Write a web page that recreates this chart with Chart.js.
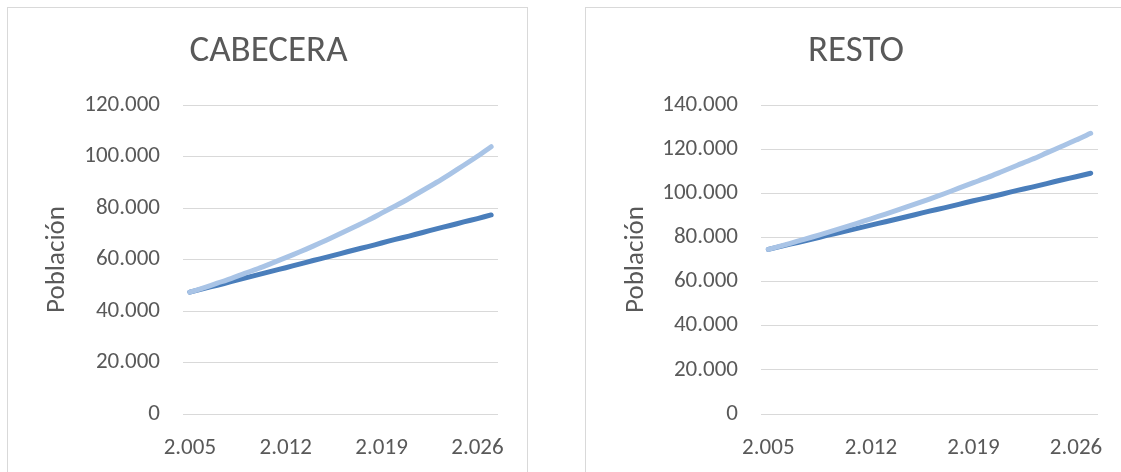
<!DOCTYPE html>
<html>
<head>
<meta charset="utf-8">
<script src="https://cdn.jsdelivr.net/npm/chart.js@4/dist/chart.umd.min.js"></script>
<style>
  body { margin: 0; background: #fff; overflow: hidden; }
  .box { position: absolute; top: 7px; border: 1px solid #d9d9d9; background: #fff; }
  #boxCab { left: 7px; }
  #boxRes { left: 585px; }
  canvas { display: block; }
</style>
</head>
<body>
<div class="box" id="boxCab"><canvas id="cabecera" width="519" height="470"></canvas></div>
<div class="box" id="boxRes"><canvas id="resto" width="540" height="470"></canvas></div>
<script>
const years = [2005, 2006, 2007, 2008, 2009, 2010, 2011, 2012, 2013, 2014, 2015, 2016,
  2017, 2018, 2019, 2020, 2021, 2022, 2023, 2024, 2025, 2026, 2027];

// Cabecera: proyección lineal y geométrica
const cabeceraLineal = [47300, 48700, 50000, 51400, 52800, 54100, 55500, 56800, 58200, 59600,
  60900, 62300, 63700, 65000, 66400, 67800, 69100, 70500, 71900, 73200, 74600, 75900, 77300];
const cabeceraGeom = [47300, 49000, 50800, 52600, 54600, 56500, 58600, 60700, 62900, 65200,
  67600, 70100, 72600, 75200, 78000, 80800, 83700, 86800, 89900, 93200, 96600, 100100, 103800];

// Resto
const restoLineal = [74600, 76200, 77700, 79300, 80900, 82400, 84000, 85600, 87100, 88700,
  90300, 91900, 93400, 95000, 96600, 98100, 99700, 101300, 102800, 104400, 106000, 107500, 109100];
const restoGeom = [74600, 76400, 78300, 80200, 82200, 84200, 86300, 88400, 90600, 92800,
  95100, 97400, 99800, 102300, 104800, 107300, 110000, 112700, 115400, 118300, 121200, 124100, 127200];

const FONT = "Carlito, Calibri, Lato, sans-serif";
const TEXT = '#595959';
const GRID = '#d9d9d9';

const fmt = v => String(v).replace(/\B(?=(\d{3})+(?!\d))/g, '.');

// padL/padR keep the title centred on the whole box while the plot sits right
function makeChart(id, title, lineal, geom, yMax, padL, padR, yTitlePad) {
  const ctx = document.getElementById(id).getContext('2d');
  return new Chart(ctx, {
    type: 'line',
    data: {
      labels: years,
      datasets: [
        {
          label: 'Geométrica',
          data: geom,
          borderColor: '#a9c4e6',
          borderWidth: 5,
          borderCapStyle: 'round',
          borderJoinStyle: 'round',
          pointRadius: 0,
          tension: 0.3,
        },
        {
          label: 'Lineal',
          data: lineal,
          borderColor: '#4a7ebb',
          borderWidth: 5,
          borderCapStyle: 'round',
          borderJoinStyle: 'round',
          pointRadius: 0,
          tension: 0.3,
        },
      ],
    },
    options: {
      responsive: false,
      animation: false,
      devicePixelRatio: 1,
      layout: { padding: { left: padL, right: padR, top: 0, bottom: 0 } },
      plugins: {
        legend: { display: false },
        tooltip: { enabled: false },
        title: {
          display: true,
          text: title,
          color: TEXT,
          font: { family: FONT, size: 37, weight: 'normal' },
          padding: { top: 22, bottom: 30.6 },
        },
      },
      scales: {
        x: {
          type: 'category',
          offset: true,
          grid: { display: false, drawTicks: false },
          border: { display: false },
          ticks: {
            autoSkip: false,
            maxRotation: 0,
            color: TEXT,
            padding: 20,
            font: { family: FONT, size: 23 },
            callback: (v, i) => (i % 7 === 0 ? fmt(years[i]) : null),
          },
          afterFit: s => { s.height = 64; },
        },
        y: {
          min: 0,
          max: yMax,
          grid: { color: GRID, lineWidth: 1, drawTicks: false },
          border: { display: false },
          ticks: {
            stepSize: 20000,
            color: TEXT,
            padding: 23,
            font: { family: FONT, size: 23 },
            callback: v => fmt(v),
          },
          title: {
            display: true,
            text: 'Población',
            color: TEXT,
            font: { family: FONT, size: 27 },
            padding: { top: yTitlePad, bottom: 0 },
          },
          afterFit: s => { s.width = 175 - padL; },
        },
      },
    },
  });
}

makeChart('cabecera', 'CABECERA', cabeceraLineal, cabeceraGeom, 120000, 31, 29, 2);
makeChart('resto', 'RESTO', restoLineal, restoGeom, 140000, 28, 28, 6);
</script>
</body>
</html>
